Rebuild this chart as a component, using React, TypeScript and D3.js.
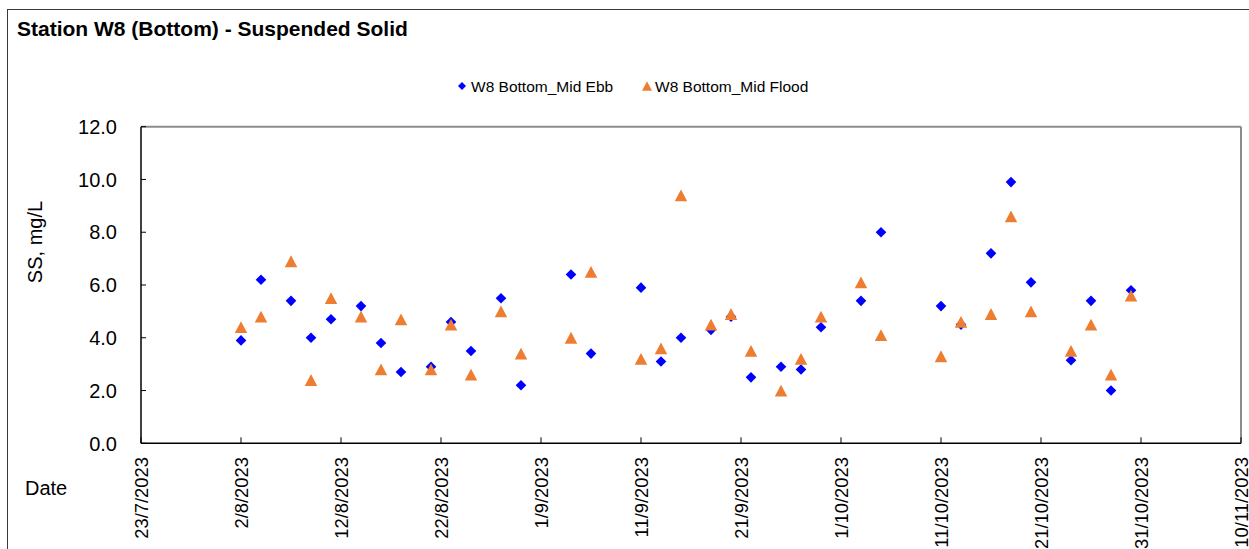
import React from "react";
import * as d3 from "d3";

const sampleDates = [
  "2023-08-02", "2023-08-04", "2023-08-07", "2023-08-09", "2023-08-11", "2023-08-14", "2023-08-16",
  "2023-08-18", "2023-08-21", "2023-08-23", "2023-08-25", "2023-08-28", "2023-08-30",
  "2023-09-04", "2023-09-06", "2023-09-11", "2023-09-13", "2023-09-15", "2023-09-18", "2023-09-20",
  "2023-09-22", "2023-09-25", "2023-09-27", "2023-09-29",
  "2023-10-03", "2023-10-05", "2023-10-11", "2023-10-13", "2023-10-16", "2023-10-18", "2023-10-20",
  "2023-10-24", "2023-10-26", "2023-10-28", "2023-10-30",
];
const midEbb = [
  3.9, 6.2, 5.4, 4.0, 4.7, 5.2, 3.8, 2.7, 2.9, 4.6, 3.5, 5.5, 2.2,
  6.4, 3.4, 5.9, 3.1, 4.0, 4.3, 4.8, 2.5, 2.9, 2.8, 4.4,
  5.4, 8.0, 5.2, 4.5, 7.2, 9.9, 6.1, 3.15, 5.4, 2.0, 5.8,
];
const midFlood = [
  4.4, 4.8, 6.9, 2.4, 5.5, 4.8, 2.8, 4.7, 2.8, 4.5, 2.6, 5.0, 3.4,
  4.0, 6.5, 3.2, 3.6, 9.4, 4.5, 4.9, 3.5, 2.0, 3.2, 4.8,
  6.1, 4.1, 3.3, 4.6, 4.9, 8.6, 5.0, 3.5, 4.5, 2.6, 5.6,
];
const xTickDates = [
  "2023-07-23", "2023-08-02", "2023-08-12", "2023-08-22", "2023-09-01", "2023-09-11",
  "2023-09-21", "2023-10-01", "2023-10-11", "2023-10-21", "2023-10-31", "2023-11-10",
];
const yTickValues = [0, 2, 4, 6, 8, 10, 12];

const seriesNames = ["W8 Bottom_Mid Ebb", "W8 Bottom_Mid Flood"];
const title = "Station W8 (Bottom) - Suspended Solid";

const FONT = "'Liberation Sans', Arial, Helvetica, sans-serif";
const BLUE = "#0000FF";
const ORANGE = "#ED7D31";

const parse = d3.utcParse("%Y-%m-%d");
const fmt = d3.utcFormat("%-d/%-m/%Y");

const diamond = (s: number) => `M0,${-s}L${s},0L0,${s}L${-s},0Z`;
const triangle = (w: number, h: number) => `M0,${-h / 2}L${w / 2},${h / 2}L${-w / 2},${h / 2}Z`;

export default function App() {
  const W = 1249;
  const H = 549;
  const left = 141;
  const right = 1241;
  const top = 126.7;
  const bottom = 443.3;

  const x = d3
    .scaleUtc()
    .domain([parse(xTickDates[0])!, parse(xTickDates[xTickDates.length - 1])!])
    .range([left, right]);
  const y = d3.scaleLinear().domain([0, 12]).range([bottom, top]);

  return (
    <div style={{ position: "absolute", left: 0, top: 0 }}>
      <svg width={W} height={H} style={{ display: "block", background: "#fff" }} fontFamily={FONT}>
        <rect x={7.5} y={9.5} width={W + 10} height={H + 10} fill="#fff" stroke="#3a3a3a" strokeWidth={1} />
        <text x={17} y={36} fontSize={21} fontWeight="bold" fill="#000">
          {title}
        </text>

        {/* legend */}
        <g>
          <path d={diamond(4)} transform="translate(462,86)" fill={BLUE} />
          <text x={471} y={91.5} fontSize={15.5} fill="#000">
            {seriesNames[0]}
          </text>
          <path d={triangle(10, 9.5)} transform="translate(647,86)" fill={ORANGE} />
          <text x={655} y={91.5} fontSize={15.5} fill="#000">
            {seriesNames[1]}
          </text>
        </g>

        {/* plot frame top/right */}
        <line x1={left} x2={right} y1={top} y2={top} stroke="#8c8c8c" strokeWidth={2} />
        <line x1={right} x2={right} y1={top} y2={bottom} stroke="#8c8c8c" strokeWidth={2} />

        {/* y axis */}
        <line x1={left} x2={left} y1={top} y2={bottom} stroke="#000" strokeWidth={1.5} />
        {yTickValues.map((v) => (
          <g key={v}>
            <line x1={left} x2={left + 5} y1={y(v)} y2={y(v)} stroke="#000" strokeWidth={1} />
            <text x={117} y={y(v)} dy="0.36em" textAnchor="end" fontSize={20} fill="#000">
              {v.toFixed(1)}
            </text>
          </g>
        ))}
        <text
          transform={`translate(42,242) rotate(-90)`}
          textAnchor="middle"
          fontSize={20}
          fill="#000"
        >
          SS, mg/L
        </text>

        {/* x axis */}
        <line x1={left} x2={right} y1={bottom} y2={bottom} stroke="#000" strokeWidth={1.5} />
        {xTickDates.map((d) => {
          const px = x(parse(d)!);
          return (
            <g key={d}>
              <line x1={px} x2={px} y1={bottom} y2={bottom - 6} stroke="#000" strokeWidth={1} />
              <text
                transform={`translate(${px},${457}) rotate(-90)`}
                dy="0.36em"
                textAnchor="end"
                fontSize={18.4}
                fill="#000"
              >
                {fmt(parse(d)!)}
              </text>
            </g>
          );
        })}
        <text x={25} y={495} fontSize={20} fill="#000">
          Date
        </text>

        {/* series */}
        <g>
          {midEbb.map((v, i) => (
            <path
              key={"e" + i}
              d={diamond(5.3)}
              transform={`translate(${x(parse(sampleDates[i])!)},${y(v)})`}
              fill={BLUE}
            />
          ))}
        </g>
        <g>
          {midFlood.map((v, i) => (
            <path
              key={"f" + i}
              d={triangle(12.5, 11.8)}
              transform={`translate(${x(parse(sampleDates[i])!)},${y(v)})`}
              fill={ORANGE}
            />
          ))}
        </g>
      </svg>
    </div>
  );
}
